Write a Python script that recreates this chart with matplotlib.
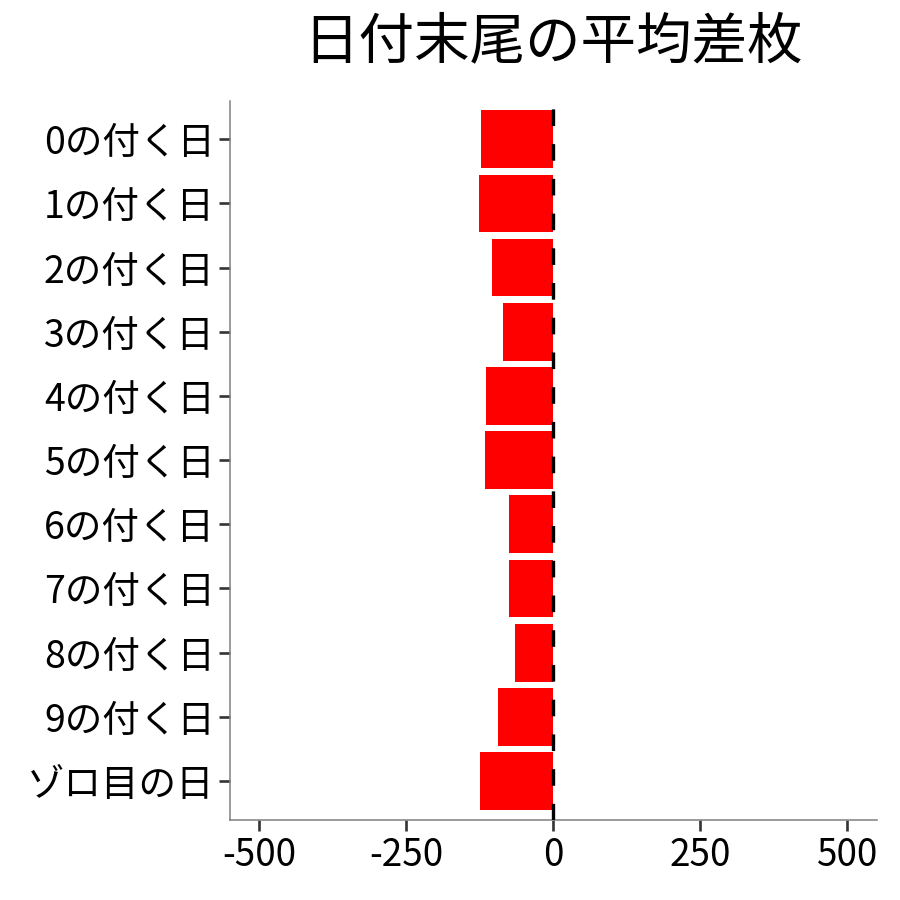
import numpy as np
import matplotlib
matplotlib.use("Agg")
import matplotlib.pyplot as plt

plt.rcParams['font.family'] = ['Noto Sans CJK JP', 'DejaVu Sans']
plt.rcParams['lines.scale_dashes'] = False

# data
categories = ['0の付く日', '1の付く日', '2の付く日', '3の付く日', '4の付く日',
              '5の付く日', '6の付く日', '7の付く日', '8の付く日', '9の付く日',
              'ゾロ目の日']
avg_diff = [-123, -127, -105, -86, -114, -117, -76, -76, -66, -95, -125]
x_ticks = [-500, -250, 0, 250, 500]

fig = plt.figure(figsize=(9, 9), dpi=100)
ax = fig.add_axes([0.2556, 0.0894, 0.7186, 0.7987])

ypos = np.arange(len(categories))
ax.barh(ypos, avg_diff, height=0.9, color='#FF0000', zorder=2)

# dashed zero line
zl = ax.axvline(0, color='black', linewidth=2.4, zorder=3)
zl.set_dashes([12, 13])

ax.set_xlim(-550, 550)
ax.set_ylim(len(categories) - 0.4, -0.6)
ax.set_xticks(x_ticks)
ax.set_xticklabels([str(v) for v in x_ticks])
ax.set_yticks(ypos)
ax.set_yticklabels(categories)

for s in ['top', 'right']:
    ax.spines[s].set_visible(False)
for s in ['left', 'bottom']:
    ax.spines[s].set_color('#808080')
    ax.spines[s].set_linewidth(1.1)

ax.tick_params(axis='both', colors='#333333', length=8, width=1.9,
               labelcolor='black')
ax.tick_params(axis='y', pad=3, labelsize=27)
ax.tick_params(axis='x', pad=4, labelsize=26.5)

fig.text(553 / 900, 0.953, '日付末尾の平均差枚', fontsize=40, ha='center', va='center')

fig.savefig('out.png', dpi=100, facecolor='white')
